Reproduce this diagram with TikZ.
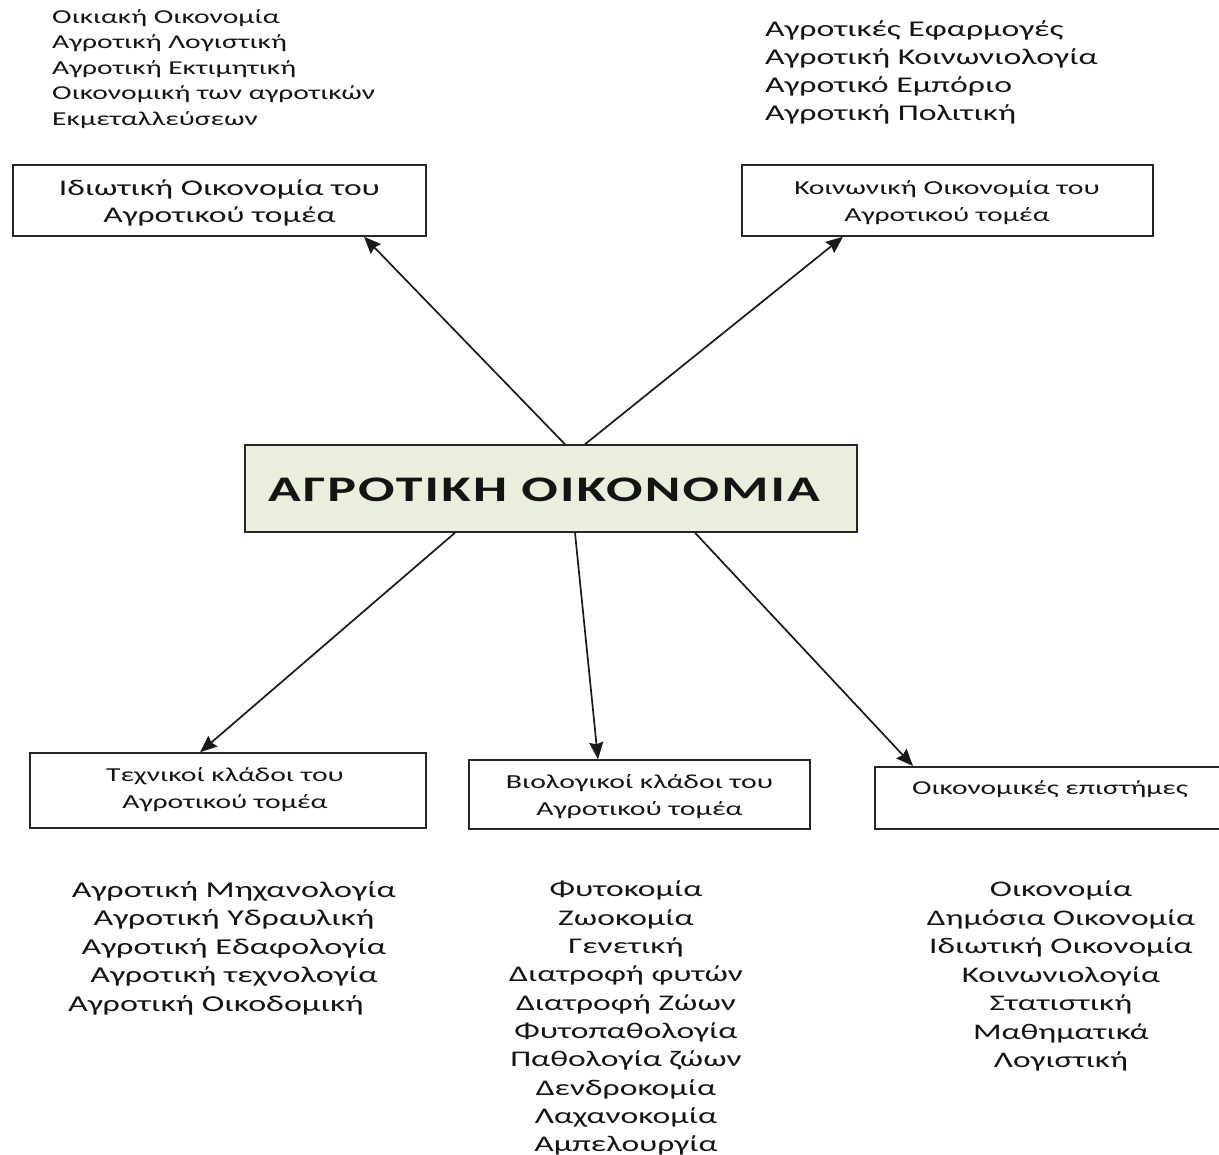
\documentclass[tikz,border=0pt]{standalone}
\usepackage{fontspec}
\setmainfont{Carlito}[FakeStretch=1.5]
\usetikzlibrary{arrows.meta}
\definecolor{txt}{HTML}{141414}
\definecolor{centerfill}{HTML}{E8EFDC}
\tikzset{
  box/.style={draw=black!85, line width=1.5pt, inner sep=0pt, text=txt},
  lst/.style={inner sep=0pt, text=txt, align=center},
  arr/.style={-{Stealth[length=17pt,width=14pt,inset=2pt]}, line width=1.7pt, draw=black!90}
}
\begin{document}
\begin{tikzpicture}[x=1pt,y=-1pt]
\useasboundingbox (0,0) rectangle (1219,1155);
% boxes
\node[box, minimum width=413pt, minimum height=71pt] (priv) at (219.5,200.5) {};
\node[lst, font=\fontsize{22.4}{27}\selectfont] (privt) at (219.5,203) {Ιδιωτική Οικονομία του\\Αγροτικού τομέα};
\node[box, minimum width=411pt, minimum height=71pt] (soc) at (947.5,200.5) {};
\node[lst, font=\fontsize{19.8}{27}\selectfont] (soct) at (947,203) {Κοινωνική Οικονομία του\\Αγροτικού τομέα};
\node[box, fill=centerfill, minimum width=612pt, minimum height=87pt] (main) at (551,488.5) {};
\node[inner sep=0pt, text=txt, anchor=west, font=\fontsize{36}{40}\selectfont\bfseries\addfontfeatures{LetterSpace=6}] (maint) at (268,490) {ΑΓΡΟΤΙΚΗ ΟΙΚΟΝΟΜΙΑ};
\node[box, minimum width=396pt, minimum height=75pt] (tech) at (228,790.5) {};
\node[lst, font=\fontsize{19.8}{27}\selectfont] (techt) at (225,790) {Τεχνικοί κλάδοι του\\Αγροτικού τομέα};
\node[box, minimum width=341pt, minimum height=69pt] (bio) at (639.5,794.5) {};
\node[lst, font=\fontsize{19.9}{27}\selectfont] (biot) at (639.5,797) {Βιολογικοί κλάδοι του\\Αγροτικού τομέα};
\node[box, minimum width=360pt, minimum height=62pt, anchor=north west] (econ) at (874,766) {};
\node[inner sep=0pt, text=txt, font=\fontsize{19.6}{27}\selectfont] (econt) at (1050,789) {Οικονομικές επιστήμες};
% lists
\node[inner sep=0pt, text=txt, align=left, anchor=north west, font=\fontsize{19.7}{25.5}\selectfont] (tl) at (52,9) {Οικιακή Οικονομία\\Αγροτική Λογιστική\\Αγροτική Εκτιμητική\\Οικονομική των αγροτικών\\Εκμεταλλεύσεων};
\node[inner sep=0pt, text=txt, align=left, anchor=north west, font=\fontsize{22.5}{28}\selectfont] (tr) at (765,20) {Αγροτικές Εφαρμογές\\Αγροτική Κοινωνιολογία\\Αγροτικό Εμπόριο\\Αγροτική Πολιτική};
\node[lst, anchor=north, font=\fontsize{22.7}{28.5}\selectfont] (bl) at (234,881) {Αγροτική Μηχανολογία\\Αγροτική Υδραυλική\\Αγροτική Εδαφολογία\\Αγροτική τεχνολογία\\Αγροτική Οικοδομική\hspace*{36pt}};
\node[lst, anchor=north, font=\fontsize{22.4}{28.3}\selectfont] (bm) at (626,881) {Φυτοκομία\\Ζωοκομία\\Γενετική\\Διατροφή φυτών\\Διατροφή Ζώων\\Φυτοπαθολογία\\Παθολογία ζώων\\Δενδροκομία\\Λαχανοκομία\\Αμπελουργία};
\node[lst, anchor=north, font=\fontsize{22.3}{28.5}\selectfont] (br) at (1061,881) {Οικονομία\\Δημόσια Οικονομία\\Ιδιωτική Οικονομία\\Κοινωνιολογία\\Στατιστική\\Μαθηματικά\\Λογιστική};
% arrows
\draw[arr] (main.north -| 565,0) -- (priv.south -| 364,0);
\draw[arr] (main.north -| 585,0) -- (soc.south -| 843,0);
\draw[arr] (main.south -| 455,0) -- (tech.north -| 200,0);
\draw[arr] (main.south -| 575,0) -- (bio.north -| 598,0);
\draw[arr] (main.south -| 695,0) -- (econ.north -| 913,0);
\end{tikzpicture}
\end{document}
